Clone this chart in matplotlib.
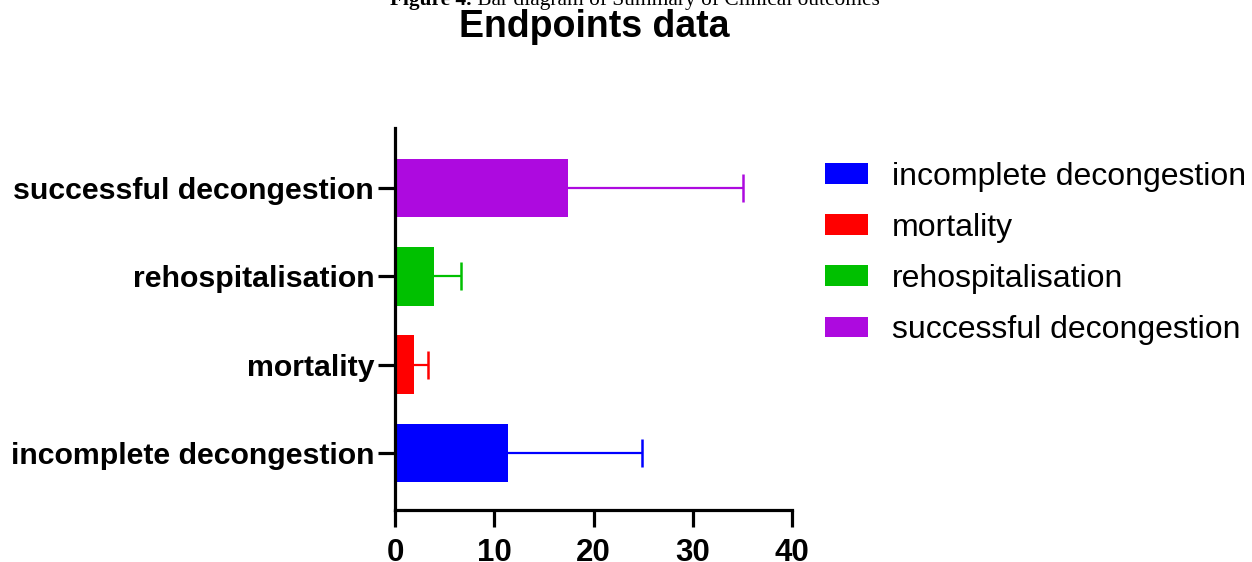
import matplotlib
matplotlib.use("Agg")
import matplotlib.pyplot as plt
from matplotlib.patches import Patch

categories = ["incomplete decongestion", "mortality", "rehospitalisation", "successful decongestion"]
means = [11.4, 1.9, 3.9, 17.4]
errors = [13.5, 1.4, 2.8, 17.7]
colors = ["#0000FF", "#FF0000", "#00C000", "#AD0ADF"]
xticks = [0, 10, 20, 30, 40]

W, H = 1252, 562
fig = plt.figure(figsize=(W / 100, H / 100), dpi=100)
plt.rcParams['font.family'] = ['Liberation Sans', 'DejaVu Sans']

ax = fig.add_axes([395 / W, 1 - 510 / H, 397 / W, 382 / H])
ypos = list(range(len(categories)))
ax.barh(ypos, means, height=0.66, color=colors, zorder=2)
for y, m, e, c in zip(ypos, means, errors, colors):
    _, caps, _ = ax.errorbar(m, y, xerr=[[0], [e]], fmt='none', ecolor=c, elinewidth=1.6,
                             capsize=10.3, capthick=1.8, zorder=1)
    for cl in caps:
        if abs(float(cl.get_xdata()[0]) - m) < 1e-9:
            cl.set_visible(False)

ax.set_xlim(0, 40)
ax.set_ylim(-0.65, 3.684)
ax.set_xticks(xticks)
ax.set_xticklabels([str(t) for t in xticks], fontsize=22.5, fontweight='bold')
ax.set_yticks(ypos)
ax.set_yticklabels(categories, fontsize=21.8, fontweight='bold')
for s in ['top', 'right']:
    ax.spines[s].set_visible(False)
for s in ['left', 'bottom']:
    ax.spines[s].set_linewidth(2.3)
ax.tick_params(axis='both', width=2.3, length=12)
ax.tick_params(axis='y', pad=3)
ax.tick_params(axis='x', pad=8)

handles = [Patch(facecolor=c, edgecolor='none') for c in colors]
fig.legend(handles, categories, loc='upper left', bbox_to_anchor=(825 / W, 1 - 162 / H),
           frameon=False, fontsize=23, handlelength=1.35, handleheight=0.63,
           handletextpad=0.74, labelspacing=0.66, borderpad=0, borderaxespad=0)

fig.text(594 / W, 1 - 37 / H, "Endpoints data", ha='center', va='baseline',
         fontsize=27, fontweight='bold')

renderer = fig.canvas.get_renderer()
t1 = fig.text(390 / W, 1 - 5 / H, "Figure 4.", ha='left', va='baseline',
              fontsize=15.4, fontweight='bold', family='Liberation Serif')
bb = t1.get_window_extent(renderer)
fig.text(bb.x1 / W, 1 - 5 / H, " Bar diagram of Summary of Clinical outcomes",
         ha='left', va='baseline', fontsize=15.4, family='Liberation Serif')

fig.savefig("out.png", dpi=100)
